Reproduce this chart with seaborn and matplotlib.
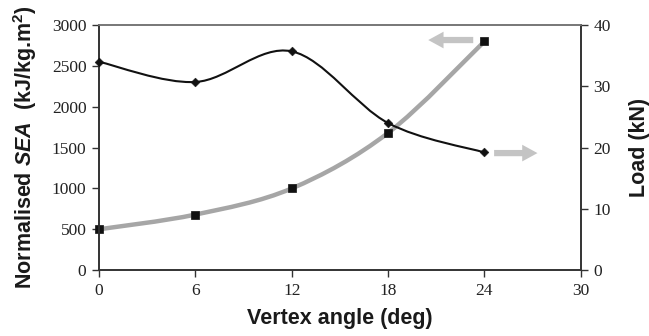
import numpy as np
import matplotlib
matplotlib.use("Agg")
import matplotlib.pyplot as plt
from matplotlib.path import Path
from matplotlib.patches import PathPatch
import seaborn as sns

# data
angle = [0, 6, 12, 18, 24]
sea = [500, 680, 1000, 1680, 2800]        # normalised SEA (kJ/kg.m^2)
load = [34.0, 30.7, 35.7, 24.0, 19.2]     # load (kN)
x_ticks = [0, 6, 12, 18, 24, 30]
sea_ticks = [0, 500, 1000, 1500, 2000, 2500, 3000]
load_ticks = [0, 10, 20, 30, 40]

sns.set_theme(style="white")
plt.rcParams["font.family"] = ["Liberation Serif", "DejaVu Serif"]
plt.rcParams["mathtext.fontset"] = "custom"
plt.rcParams["mathtext.rm"] = "Liberation Sans:bold"
plt.rcParams["mathtext.it"] = "Liberation Sans:italic:bold"
plt.rcParams["mathtext.bf"] = "Liberation Sans:bold"


def smooth_path(xs, ys):
    # excel-style smoothed line: cubic bezier through the points
    p = np.column_stack([xs, ys]).astype(float)
    verts = [p[0]]
    codes = [Path.MOVETO]
    for i in range(len(p) - 1):
        prev = p[i - 1] if i > 0 else p[i]
        nxt = p[i + 2] if i + 2 < len(p) else p[i + 1]
        c1 = p[i] + (p[i + 1] - prev) / 6
        c2 = p[i + 1] - (nxt - p[i]) / 6
        verts += [c1, c2, p[i + 1]]
        codes += [Path.CURVE4] * 3
    return Path(verts, codes)


fig = plt.figure(figsize=(6.49, 3.36), dpi=100)
ax = fig.add_axes([0.1525, 0.196, 0.7425, 0.7296])
ax2 = ax.twinx()

# SEA: thick grey smooth line with black squares
ax.add_patch(PathPatch(smooth_path(angle, sea), fill=False, lw=3.2,
                       edgecolor="#a6a6a6", capstyle="butt", zorder=2))
sns.scatterplot(x=angle, y=sea, ax=ax, marker="s", s=38, color="#111111",
                edgecolor="#111111", zorder=4, clip_on=False)

# Load: thin black smooth line with diamonds
ax2.add_patch(PathPatch(smooth_path(angle, load), fill=False, lw=1.5,
                        edgecolor="#111111", zorder=3))
sns.scatterplot(x=angle, y=load, ax=ax2, marker="D", s=20, color="#111111",
                edgecolor="#111111", zorder=4, clip_on=False)

ax.set_xlim(0, 30)
ax.set_ylim(0, 3000)
ax2.set_ylim(0, 40)
ax.set_xticks(x_ticks)
ax.set_yticks(sea_ticks)
ax2.set_yticks(load_ticks)

for a in (ax, ax2):
    a.tick_params(axis="both", which="major", direction="out", length=5,
                  width=1, color="#333333", labelsize=12.5, labelcolor="#222222",
                  pad=4)
    for s in a.spines.values():
        s.set_color("#333333")
        s.set_linewidth(1.2)
    a.spines["top"].set_color("#777777")
    a.set_facecolor("none")
ax.tick_params(axis="both", left=True, bottom=True)
ax2.tick_params(axis="y", right=True)

lab = dict(family="Liberation Sans", weight="bold", fontsize=15.5,
           color="#1a1a1a")
ax.set_xlabel("Vertex angle (deg)", labelpad=7, **lab)
ax.set_ylabel(r"Normalised $\mathit{SEA}$  (kJ/kg.m$^\mathrm{2}$)",
              labelpad=9, **lab)
ax2.set_ylabel("Load (kN)", labelpad=13, **lab)

# grey arrows pointing to each axis
arrow = dict(arrowstyle="simple,head_width=1.2,head_length=1.1,tail_width=0.45",
             color="#c4c4c4", lw=0, shrinkA=0, shrinkB=0, mutation_scale=10)
ax.annotate("", xy=(20.5, 2816), xytext=(23.3, 2816), arrowprops=arrow,
            annotation_clip=False)
ax2.annotate("", xy=(27.3, 19.1), xytext=(24.6, 19.1), arrowprops=arrow,
             annotation_clip=False)

fig.savefig("out.png", dpi=100)
